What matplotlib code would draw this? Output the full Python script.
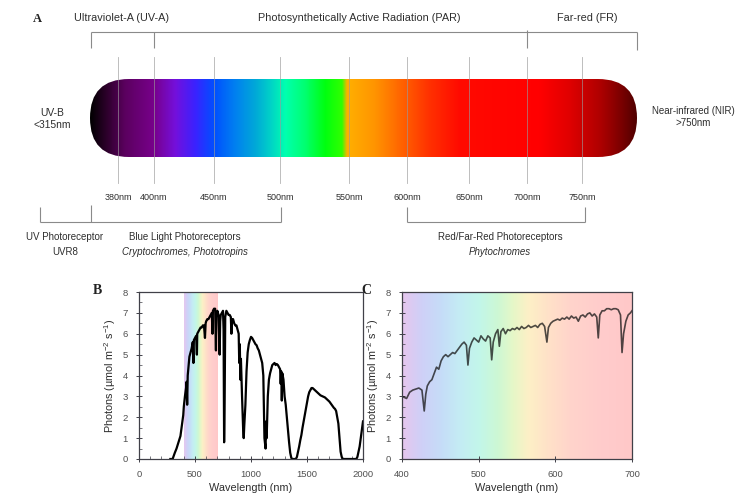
import numpy as np
import matplotlib
matplotlib.use('Agg')
import matplotlib.pyplot as plt
from matplotlib.colors import LinearSegmentedColormap
from matplotlib.patches import FancyBboxPatch
from matplotlib.ticker import MultipleLocator

plt.rcParams['font.family'] = ['Liberation Sans', 'DejaVu Sans']
plt.rcParams['mathtext.fontset'] = 'custom'
plt.rcParams['mathtext.rm'] = 'Liberation Sans'
plt.rcParams['mathtext.it'] = 'Liberation Sans:italic'

# ---------------- data ----------------
band_labels = ['380nm', '400nm', '450nm', '500nm', '550nm', '600nm', '650nm', '700nm', '750nm']
top_region_labels = ['Ultraviolet-A (UV-A)', 'Photosynthetically Active Radiation (PAR)', 'Far-red (FR)']
left_label = 'UV-B\n<315nm'
right_label = 'Near-infrared (NIR)\n>750nm'
receptor_titles = ['UV Photoreceptor', 'Blue Light Photoreceptors', 'Red/Far-Red Photoreceptors']
receptor_names = ['UVR8', 'Cryptochromes, Phototropins', 'Phytochromes']

b_nm = [280, 300, 310, 320, 335, 350, 360, 370, 380, 390,
        395, 400, 410, 420, 425, 430, 435, 440, 450, 460,
        470, 480, 486, 490, 500, 510, 517, 520, 530, 540,
        550, 560, 570, 580, 589, 595, 600, 610, 620, 630,
        640, 650, 656, 660, 670, 680, 687, 690, 700, 710,
        720, 725, 730, 740, 750, 755, 760, 765, 770, 780,
        790, 800, 810, 820, 825, 830, 840, 850, 860, 870,
        880, 890, 895, 900, 905, 910, 920, 930, 935, 940,
        950, 960, 970, 980, 990, 1000, 1010, 1020, 1030, 1040,
        1050, 1060, 1070, 1080, 1090, 1100, 1110, 1115, 1120, 1130,
        1135, 1140, 1150, 1160, 1170, 1180, 1190, 1200, 1210, 1220,
        1230, 1240, 1250, 1260, 1265, 1270, 1275, 1280, 1290, 1300,
        1310, 1320, 1330, 1340, 1350, 1360, 1370, 1400, 1410, 1420,
        1430, 1440, 1450, 1460, 1470, 1480, 1490, 1500, 1510, 1520,
        1530, 1540, 1550, 1560, 1570, 1580, 1590, 1600, 1620, 1640,
        1660, 1680, 1700, 1720, 1740, 1750, 1760, 1770, 1780, 1790,
        1800, 1810, 1820, 1940, 1950, 1960, 1970, 1980, 1990, 2000]
b_val = [0, 0, 0.15, 0.3, 0.5, 0.75, 0.9, 1.1, 1.5, 1.9,
         2.1, 2.5, 3.0, 3.4, 3.7, 2.6, 4.0, 4.3, 4.9, 5.1,
         5.3, 5.6, 4.6, 5.7, 5.8, 5.9, 5.0, 6.0, 6.1, 6.2,
         6.3, 6.3, 6.4, 6.4, 5.8, 6.5, 6.6, 6.7, 6.7, 6.8,
         6.9, 7.0, 6.0, 7.1, 7.2, 7.2, 5.2, 6.8, 7.1, 6.9,
         5.0, 6.6, 6.9, 7.0, 7.1, 6.2, 0.8, 3.0, 6.8, 7.1,
         7.0, 6.9, 6.9, 6.8, 6.0, 6.7, 6.7, 6.5, 6.4, 6.4,
         6.2, 6.0, 4.6, 5.5, 3.8, 4.8, 3.0, 1.4, 1.0, 1.6,
         2.6, 4.2, 5.1, 5.5, 5.7, 5.85, 5.8, 5.7, 5.6, 5.5,
         5.45, 5.3, 5.2, 5.0, 4.8, 4.6, 4.0, 2.6, 1.0, 0.5,
         1.8, 1.0, 3.0, 3.8, 4.1, 4.3, 4.5, 4.55, 4.6, 4.5,
         4.55, 4.5, 4.4, 4.3, 3.6, 4.2, 2.8, 4.1, 3.8, 3.0,
         2.6, 2.0, 1.4, 0.8, 0.3, 0.05, 0, 0, 0.1, 0.35,
         0.6, 0.9, 1.15, 1.5, 1.8, 2.1, 2.4, 2.7, 3.0, 3.2,
         3.3, 3.4, 3.4, 3.35, 3.3, 3.25, 3.2, 3.15, 3.05, 3.0,
         2.95, 2.85, 2.75, 2.6, 2.45, 2.4, 2.3, 2.0, 1.7, 1.0,
         0.35, 0.1, 0, 0, 0.1, 0.35, 0.6, 1.0, 1.4, 1.8]

c_nm = [400, 403, 406, 410, 414, 418, 422, 426, 429, 431,
        433, 436, 439, 442, 445, 448, 451, 454, 457, 460,
        463, 466, 469, 472, 475, 478, 481, 484, 486, 488,
        491, 494, 497, 500, 503, 506, 509, 512, 515, 517,
        519, 522, 525, 527, 529, 532, 535, 538, 541, 544,
        547, 550, 553, 556, 559, 562, 565, 568, 571, 574,
        577, 580, 583, 586, 589, 591, 594, 597, 600, 603,
        606, 609, 612, 615, 618, 621, 624, 627, 630, 633,
        636, 639, 642, 645, 648, 651, 654, 656, 658, 661,
        664, 667, 670, 673, 676, 679, 682, 685, 687, 689,
        692, 695, 698, 700]
c_val = [3.0, 2.95, 2.9, 3.2, 3.3, 3.35, 3.4, 3.3, 2.3, 3.1,
         3.5, 3.7, 3.8, 4.1, 4.4, 4.3, 4.7, 4.9, 5.0, 4.9,
         5.0, 5.1, 5.05, 5.2, 5.35, 5.5, 5.6, 5.45, 4.5, 5.3,
         5.6, 5.8, 5.7, 5.6, 5.9, 5.75, 5.65, 5.9, 5.8, 4.75,
         5.6, 6.0, 6.2, 5.4, 6.1, 6.25, 6.0, 6.2, 6.15, 6.25,
         6.2, 6.3, 6.2, 6.35, 6.25, 6.3, 6.4, 6.3, 6.35, 6.4,
         6.3, 6.45, 6.5, 6.35, 5.6, 6.3, 6.5, 6.6, 6.65, 6.7,
         6.65, 6.75, 6.7, 6.8, 6.7, 6.85, 6.75, 6.8, 6.6, 6.85,
         6.9, 6.8, 6.95, 7.0, 6.85, 6.95, 6.8, 5.8, 6.9, 7.1,
         7.1, 7.2, 7.2, 7.15, 7.2, 7.2, 7.15, 6.9, 5.1, 6.0,
         6.6, 6.9, 7.0, 7.1]

# ---------------- styles / layout ----------------
W, H = 756, 501
text_col = '#2e2e2e'
line_col = '#8a8a8a'
spine_col = '#404048'

bar_stops = [(90, '#000000'), (105, '#2a0028'), (125, '#5c0060'), (154, '#78008c'),
             (175, '#7410dc'), (195, '#3a22ff'), (214, '#0050ff'), (235, '#0080f0'),
             (255, '#00a8d8'), (270, '#00d0c8'), (285, '#00ffb0'), (305, '#00ff70'),
             (325, '#00ff10'), (342, '#30ff00'), (347, '#ffb000'), (375, '#ff9400'),
             (400, '#ff6600'), (430, '#ff3000'), (460, '#ff0a00'), (540, '#ff0000'),
             (570, '#e00000'), (600, '#b00000'), (620, '#800000'), (637, '#500000')]
bar_x0, bar_x1, bar_top, bar_bot = 90, 637, 79, 157
tick_px = [118, 154, 214, 280, 349, 407, 469, 527, 582]

pastel_stops = [(400, '#e6c6ee'), (425, '#cfd0f7'), (450, '#c6dcf8'), (475, '#c4ecf4'),
                (500, '#c2f6ea'), (525, '#cdf8d4'), (545, '#e6f7c8'), (565, '#fdf0c6'),
                (590, '#ffe2c8'), (620, '#ffd4cb'), (660, '#ffcccc'), (700, '#ffc8c8')]

def stops_cmap(stops, name):
    lo, hi = stops[0][0], stops[-1][0]
    return LinearSegmentedColormap.from_list(name, [((p - lo) / (hi - lo), c) for p, c in stops], N=1024)

bar_cmap = stops_cmap(bar_stops, 'bar')
pastel_cmap = stops_cmap(pastel_stops, 'pastel')

fig = plt.figure(figsize=(W / 100, H / 100), dpi=100)

# ---------------- panel A ----------------
axA = fig.add_axes([0, 0, 1, 1])
axA.axis('off')

grad = np.linspace(0, 1, 1000).reshape(1, -1)
im = axA.imshow(grad, cmap=bar_cmap, extent=[bar_x0, bar_x1, bar_bot, bar_top],
                aspect='auto', interpolation='bilinear', zorder=1)
pill = FancyBboxPatch((bar_x0, bar_top), bar_x1 - bar_x0, bar_bot - bar_top,
                      boxstyle='round,pad=0,rounding_size=39', fc='none', ec='none',
                      transform=axA.transData)
axA.add_patch(pill)
im.set_clip_path(pill)

for x, lab in zip(tick_px, band_labels):
    axA.plot([x, x], [57, 183], color='#9a9a9a', lw=0.6, alpha=0.75, zorder=3)
    axA.text(x, 197, lab, ha='center', va='center', fontsize=6.5, color=text_col)

lk = dict(color=line_col, lw=0.8, solid_capstyle='butt', zorder=2)
# top bracket
axA.plot([91, 637], [32, 32], **lk)
axA.plot([91, 91], [32, 48], **lk)
axA.plot([154, 154], [32, 48], **lk)
axA.plot([527, 527], [30, 48], **lk)
axA.plot([637, 637], [32, 50], **lk)
for xc, lab in zip([121, 359, 587], top_region_labels):
    axA.text(xc, 18, lab, ha='center', va='center', fontsize=7.8, color=text_col)
axA.text(37, 19, 'A', ha='center', va='center', fontsize=9, fontweight='bold',
         family='Liberation Serif', color='#222222')

axA.text(52, 119, left_label, ha='center', va='center', fontsize=7.4, color=text_col,
         linespacing=1.3)
axA.text(693, 117, right_label, ha='center', va='center', fontsize=7, color=text_col,
         linespacing=1.3)

# bottom brackets
axA.plot([40, 281], [222, 222], **lk)
axA.plot([40, 40], [207, 222], **lk)
axA.plot([91, 91], [205, 222], **lk)
axA.plot([281, 281], [207, 222], **lk)
axA.plot([407, 585], [222, 222], **lk)
axA.plot([407, 407], [207, 222], **lk)
axA.plot([585, 585], [207, 222], **lk)
for xc, t, n in zip([65, 185, 500], receptor_titles, receptor_names):
    axA.text(xc, 237, t, ha='center', va='center', fontsize=7, color=text_col)
    axA.text(xc, 252, n, ha='center', va='center', fontsize=7, color=text_col,
             style='normal' if n == 'UVR8' else 'italic')

axA.set_xlim(0, W)
axA.set_ylim(H, 0)

# ---------------- panels B and C ----------------
ylab = 'Photons (µmol m$^{-2}$ s$^{-1}$)'

def style_axes(ax):
    for s in ax.spines.values():
        s.set_color(spine_col)
        s.set_linewidth(0.9)
    ax.tick_params(which='major', direction='inout', length=4, width=0.7, colors=spine_col,
                   labelcolor='#505050', labelsize=6.8, pad=6)
    ax.tick_params(which='minor', direction='in', length=2, width=0.5, colors=spine_col)
    ax.set_ylim(0, 8)
    ax.yaxis.set_major_locator(MultipleLocator(1))
    ax.yaxis.set_minor_locator(MultipleLocator(0.5))
    ax.set_xlabel('Wavelength (nm)', fontsize=7.8, color=text_col, labelpad=3)
    ax.set_ylabel(ylab, fontsize=7.8, color=text_col, labelpad=3)

axB = fig.add_axes([139 / W, (H - 459) / H, 224 / W, 167 / H])
axB.imshow(np.linspace(0, 1, 300).reshape(1, -1), cmap=pastel_cmap, extent=[400, 700, 0, 8],
           aspect='auto', interpolation='bilinear', zorder=0)
axB.plot(b_nm, b_val, color='black', lw=1.6, zorder=2)
axB.xaxis.set_major_locator(MultipleLocator(500))
axB.xaxis.set_minor_locator(MultipleLocator(100))
style_axes(axB)
axB.set_xlim(0, 2000)
fig.text(97 / W, 1 - 290 / H, 'B', ha='center', va='center', fontsize=10, fontweight='bold',
         family='Liberation Serif', color='#222222')

axC = fig.add_axes([402 / W, (H - 459) / H, 230 / W, 167 / H])
axC.imshow(np.linspace(0, 1, 300).reshape(1, -1), cmap=pastel_cmap, extent=[400, 700, 0, 8],
           aspect='auto', interpolation='bilinear', zorder=0)
axC.plot(c_nm, c_val, color='#141414', lw=1.2, alpha=0.75, zorder=2)
axC.xaxis.set_major_locator(MultipleLocator(100))
style_axes(axC)
axC.set_xlim(400, 700)
fig.text(366 / W, 1 - 290 / H, 'C', ha='center', va='center', fontsize=10, fontweight='bold',
         family='Liberation Serif', color='#222222')

fig.savefig('out.png', dpi=100)
